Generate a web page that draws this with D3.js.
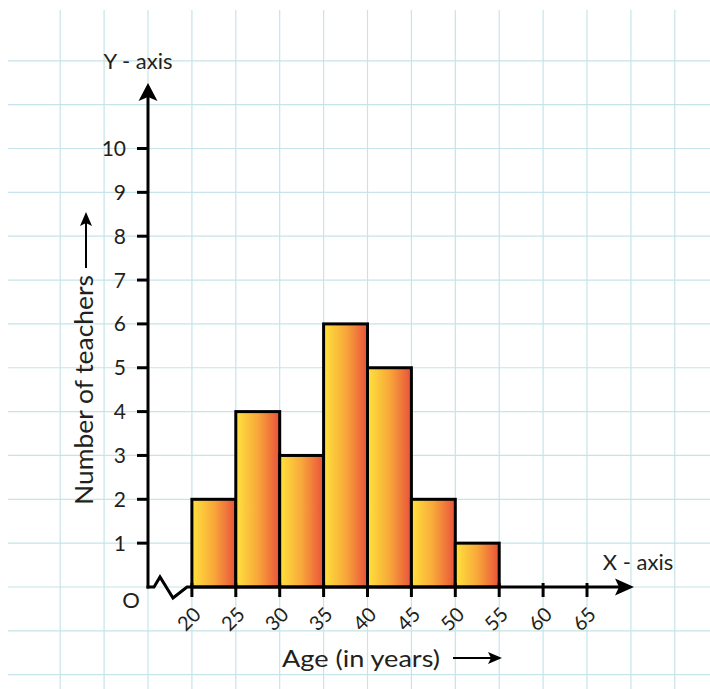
<!DOCTYPE html>
<html>
<head>
<meta charset="utf-8">
<script src="https://cdn.jsdelivr.net/npm/d3@7"></script>
<style>
  html, body { margin: 0; padding: 0; background: #fff; }
  svg { display: block; }
  text { font-family: Lato, "Open Sans", sans-serif; fill: #231f20; }
</style>
</head>
<body>
<svg id="chart" width="710" height="689"></svg>
<script>
// ---- data ----
const binStarts = [20, 25, 30, 35, 40, 45, 50];
const binWidth = 5;
const counts = [2, 4, 3, 6, 5, 2, 1];
const xTickValues = [20, 25, 30, 35, 40, 45, 50, 55, 60, 65];
const yTickValues = [1, 2, 3, 4, 5, 6, 7, 8, 9, 10];
const xTitle = "Age (in years)";
const yTitle = "Number of teachers";

// ---- setup ----
const svg = d3.select("#chart");
const x = d3.scaleLinear().domain([15, 65]).range([148, 587]);
const y = d3.scaleLinear().domain([0, 10]).range([587, 148.5]);

// gradient
const defs = svg.append("defs");
const grad = defs.append("linearGradient").attr("id", "barGrad")
  .attr("x1", "0%").attr("x2", "100%").attr("y1", "0%").attr("y2", "0%");
grad.append("stop").attr("offset", "0%").attr("stop-color", "#ffe33c");
grad.append("stop").attr("offset", "50%").attr("stop-color", "#f8a83a");
grad.append("stop").attr("offset", "100%").attr("stop-color", "#e9513a");

// grid
const gridColor = "#c6e4e9";
const vGrid = d3.range(5, 80, 5);
const hGrid = d3.range(-2, 13, 1);
svg.append("g").selectAll("line").data(vGrid).join("line")
  .attr("x1", d => x(d)).attr("x2", d => x(d))
  .attr("y1", 10).attr("y2", 689)
  .attr("stroke", gridColor).attr("stroke-width", 1.2);
svg.append("g").selectAll("line").data(hGrid).join("line")
  .attr("x1", 8).attr("x2", 710)
  .attr("y1", d => y(d)).attr("y2", d => y(d))
  .attr("stroke", gridColor).attr("stroke-width", 1.2);

// bars
svg.append("g").selectAll("rect").data(binStarts).join("rect")
  .attr("x", d => x(d))
  .attr("width", d => x(d + binWidth) - x(d))
  .attr("y", (d, i) => y(counts[i]))
  .attr("height", (d, i) => y(0) - y(counts[i]))
  .attr("fill", "url(#barGrad)")
  .attr("stroke", "#000").attr("stroke-width", 3)
  .attr("stroke-linejoin", "miter");

// axes
const ax = svg.append("g").attr("stroke", "#000").attr("fill", "none").attr("stroke-width", 3);
const x0 = x(15), y0 = y(0);
ax.append("line").attr("x1", x0).attr("x2", x0).attr("y1", y0 + 1.5).attr("y2", 92);
const zz = d3.path();
zz.moveTo(x0 - 1.5, y0);
zz.lineTo(x0 + 6, y0);
zz.lineTo(x0 + 12, y0 - 10);
zz.lineTo(x0 + 25, y0 + 11);
zz.lineTo(x0 + 39, y0);
zz.lineTo(622, y0);
ax.append("path").attr("d", zz.toString()).attr("stroke-linejoin", "miter");

// arrowheads
svg.append("path")
  .attr("d", `M${x0},83 L${x0 + 9.5},101 L${x0},97 L${x0 - 9.5},101 Z`)
  .attr("fill", "#000");
svg.append("path")
  .attr("d", `M634,${y0} L615,${y0 - 8.5} L619,${y0} L615,${y0 + 8.5} Z`)
  .attr("fill", "#000");

// y ticks
svg.append("g").selectAll("line").data(yTickValues).join("line")
  .attr("x1", x0 - 11).attr("x2", x0)
  .attr("y1", d => y(d)).attr("y2", d => y(d))
  .attr("stroke", "#000").attr("stroke-width", 3);
svg.append("g").selectAll("text").data(yTickValues).join("text")
  .attr("x", x0 - 22).attr("y", d => y(d))
  .attr("dy", "0.36em")
  .attr("text-anchor", "end")
  .attr("font-size", 21)
  .text(d => d);

// x ticks
svg.append("g").selectAll("line").data(xTickValues).join("line")
  .attr("x1", d => x(d)).attr("x2", d => x(d))
  .attr("y1", y0 - 4).attr("y2", y0 + 10)
  .attr("stroke", "#000").attr("stroke-width", 3);
svg.append("g").selectAll("text").data(xTickValues).join("text")
  .attr("transform", d => `translate(${x(d) - 3},${y0 + 32}) rotate(-45)`)
  .attr("dy", "0.36em")
  .attr("text-anchor", "middle")
  .attr("font-size", 20)
  .text(d => d);

// origin label
svg.append("text").attr("x", 131).attr("y", 600).attr("dy", "0.36em")
  .attr("text-anchor", "middle").attr("font-size", 22).text("O");

// axis names
svg.append("text").attr("x", 138).attr("y", 69).attr("text-anchor", "middle")
  .attr("font-size", 22).text("Y - axis");
svg.append("text").attr("x", 638).attr("y", 570).attr("text-anchor", "middle")
  .attr("font-size", 22).text("X - axis");

// x title with arrow
svg.append("text").attr("x", 282).attr("y", 667)
  .attr("font-size", 23)
  .attr("textLength", 158).attr("lengthAdjust", "spacingAndGlyphs")
  .text(xTitle);
svg.append("line").attr("x1", 453).attr("x2", 492).attr("y1", 658).attr("y2", 658)
  .attr("stroke", "#000").attr("stroke-width", 2);
svg.append("path").attr("d", "M502,658 L488,652 L491,658 L488,664 Z").attr("fill", "#000");

// y title with arrow
svg.append("text")
  .attr("transform", "translate(93,505) rotate(-90)")
  .attr("font-size", 25)
  .attr("textLength", 230).attr("lengthAdjust", "spacingAndGlyphs")
  .text(yTitle);
svg.append("line").attr("x1", 86).attr("x2", 86).attr("y1", 268).attr("y2", 222)
  .attr("stroke", "#000").attr("stroke-width", 2);
svg.append("path").attr("d", "M86,212 L80,226 L86,223 L92,226 Z").attr("fill", "#000");
</script>
</body>
</html>
